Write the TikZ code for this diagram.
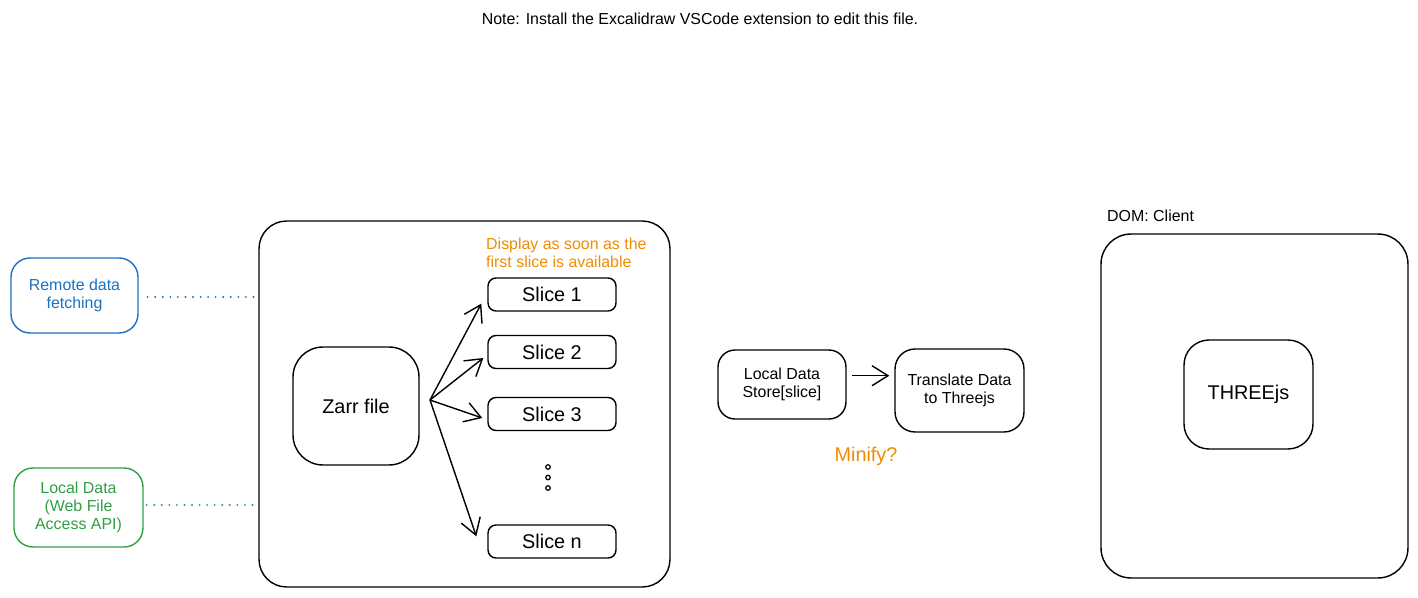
\documentclass[tikz,border=0pt]{standalone}
\usepackage{fontspec}
\setmainfont{Liberation Sans}
\usetikzlibrary{arrows.meta}

\definecolor{exblue}{HTML}{1971C2}
\definecolor{exgreen}{HTML}{2F9E44}
\definecolor{exorange}{HTML}{F08C00}

\begin{document}
\begin{tikzpicture}[x=0.02cm, y=-0.02cm]
        \tikzstyle{box}   = [shape=rectangle, draw, line width=0.8pt, inner sep=0pt, align=center]
        \tikzstyle{small} = [font=\fontsize{9.07pt}{10.2pt}\selectfont]
        \tikzstyle{large} = [font=\fontsize{11.3pt}{13pt}\selectfont]
        \tikzstyle{slice} = [box, large, rounded corners=0.16cm, minimum width=2.56cm, minimum height=0.66cm]
        \tikzstyle{arrow} = [line width=0.8pt, -{Straight Barb[length=0.32cm, width=0.4cm]}]
        \tikzstyle{link}  = [line width=1.2pt, line cap=round, dash pattern=on 0pt off 4.3pt]

        \useasboundingbox (0, 0) rectangle (1418, 598);

        \node[small] (note) at (700, 19)
            {Note: Install the Excalidraw VSCode extension to edit this file.};

        % sources
        \node[box, small, draw=exblue, text=exblue, rounded corners=0.38cm,
              minimum width=2.54cm, minimum height=1.5cm] (remote) at (74.5, 295.5)
            {Remote data\\fetching};
        \node[box, small, draw=exgreen, text=exgreen, rounded corners=0.38cm,
              minimum width=2.58cm, minimum height=1.58cm] (local) at (78.5, 507.5)
            {Local Data\\(Web File\\Access API)};

        % zarr store
        \node[box, rounded corners=0.55cm, minimum width=8.22cm, minimum height=7.32cm]
            (store) at (464.5, 404) {};

            \node[box, large, rounded corners=0.6cm, minimum width=2.52cm, minimum height=2.36cm]
                (zarr) at (356, 406) {Zarr file};

            \node[small, text=exorange, align=left, anchor=west] (display) at (480, 253)
                {Display as soon as the\\first slice is available};

            \node[slice] (s1) at (552, 294.5) {Slice 1};
            \node[slice] (s2) at (552, 352)   {Slice 2};
            \node[slice] (s3) at (552, 414)   {Slice 3};
            \node[slice] (sn) at (552, 541.5) {Slice n};

            \foreach \y [count=\i] in {467, 477.5, 488}
                \node[circle, draw, line width=0.7pt, inner sep=0pt, minimum size=0.09cm]
                    (dot\i) at (548, \y) {};

            \coordinate (fan) at (430, 400);
            \draw[arrow] (fan) -- ([shift={(-6, -8)}]s1.south west);
            \draw[arrow] (fan) -- ([shift={(-4, 6)}]s2.west);
            \draw[arrow] (fan) -- ([shift={(-5, 4)}]s3.west);
            \draw[arrow] (fan) -- ([shift={(-11, 12)}]sn.north west);

        \draw[link, exblue]  ([shift={(9, 1.5)}]remote.east) -- ([shift={(-4, 1.5)}]remote.east -| store.west);
        \draw[link, exgreen] ([shift={(3, -2.5)}]local.east)  -- ([shift={(-4, -2.5)}]local.east -| store.west);

        % local processing
        \node[box, small, rounded corners=0.34cm, minimum width=2.56cm, minimum height=1.38cm]
            (data) at (782, 384.5) {Local Data\\Store[slice]};
        \node[box, small, rounded corners=0.4cm, minimum width=2.58cm, minimum height=1.66cm]
            (trans) at (959.5, 390.5) {Translate Data\\to Threejs};

        \draw[arrow, shorten <=0.1cm, shorten >=0.1cm] ([yshift=5]data.east) -- ([yshift=5]data.east -| trans.west);

        \node[large, text=exorange] (minify) at (866, 456) {Minify?};

        % client
        \node[small, anchor=west] (domlabel) at (1101, 216) {DOM: Client};
        \node[box, rounded corners=0.6cm, minimum width=6.14cm, minimum height=6.88cm]
            (dom) at (1254.5, 406) {};
            \node[box, large, rounded corners=0.5cm, minimum width=2.58cm, minimum height=2.18cm]
                (three) at (1248.5, 394.5) {THREEjs};

\end{tikzpicture}
\end{document}
